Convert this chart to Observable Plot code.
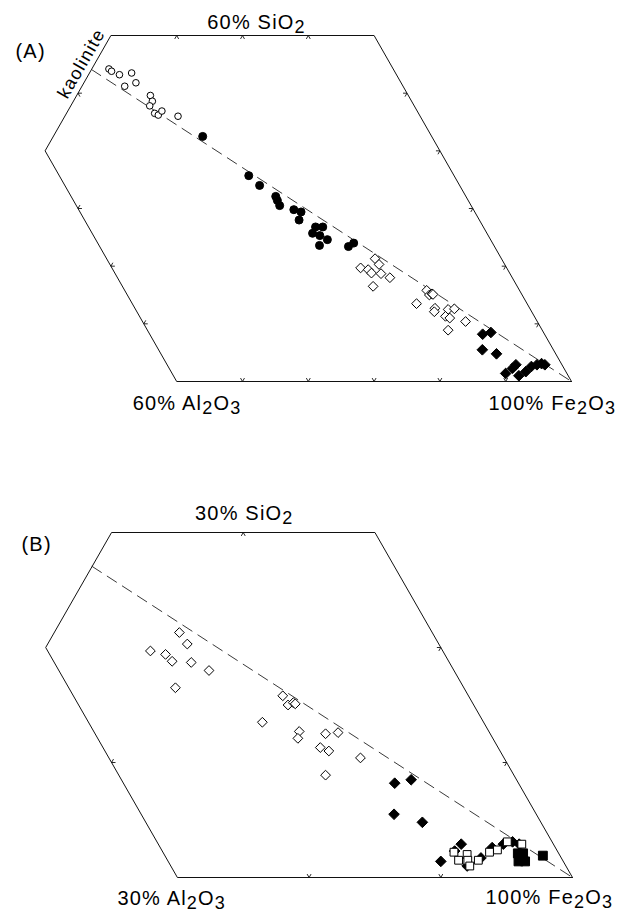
<!DOCTYPE html>
<html><head><meta charset="utf-8">
<script src="https://cdn.jsdelivr.net/npm/d3@7"></script>
<script src="https://cdn.jsdelivr.net/npm/@observablehq/plot@0.6"></script>
<style>
html,body{margin:0;padding:0;background:#fff;}
#chart{width:636px;}
#chart svg{display:block;}
</style></head><body><div id="chart"></div>
<script>
// Compositions as [SiO2 wt%, Al2O3 wt%]; Fe2O3 = 100 - SiO2 - Al2O3
const kaolinite = [54.1, 45.9];

// Panel A only
const openCircles = [[54.2,43.2],[53.8,43.0],[53.2,42.1],[53.5,40.1],[51.2,42.3],[51.8,40.3],[49.6,39.2],[48.6,39.4],[47.8,40.2],[46.5,40.1],[46.2,39.7],[46.9,38.8],[46.0,36.8]];
const filledCircles = [[42.5,34.8],[35.7,31.2],[34.0,30.4],[32.1,28.9],[31.4,29.0],[30.5,29.1],[29.8,27.3],[29.4,26.4],[28.0,27.4],[26.8,25.5],[26.8,24.4],[25.7,26.5],[25.3,25.6],[24.6,24.8],[23.6,26.5],[23.4,22.2],[24.0,21.1]];
// Both panels
const openDiamonds = [[21.3,19.2],[20.3,19.1],[19.7,22.2],[19.4,21.2],[18.8,21.0],[18.7,19.6],[18.0,18.6],[16.5,21.9],[15.8,14.1],[15.0,14.1],[15.2,13.6],[15.1,13.5],[13.5,16.8],[12.7,14.4],[12.1,14.8],[12.5,12.5],[12.6,11.5],[11.3,13.5],[11.0,13.0],[10.4,10.9],[8.9,14.3]];
const filledDiamonds = [[8.2,9.4],[8.5,8.0],[5.5,10.8],[4.8,9.0],[1.4,9.3],[2.3,7.8],[2.9,7.0],[1.0,7.5],[1.7,6.1],[2.6,4.8],[2.9,3.8],[3.1,3.0],[2.9,2.6]];
// Panel B only
const openSquares = [[2.2,7.9],[1.5,7.9],[2.0,7.0],[1.5,7.2],[1.0,7.3],[1.5,6.4],[2.2,5.2],[2.4,4.5],[3.1,3.4],[2.9,2.4]];
const filledSquares = [[1.9,1.3],[2.1,3.1],[2.1,2.7],[1.4,3.4],[1.4,2.9]];

// Outline of panel A (ternary truncated at 60% SiO2 and 60% Al2O3); panel B is the same zoomed x2 toward Fe2O3
const frameA = [[0,0],[0,60],[40,60],[60,40],[60,0],[0,0]];
const panelTitles = ["(A)", "(B)"];
const labelsA = ["60% SiO_2", "60% Al_2O_3", "100% Fe_2O_3"];
const labelsB = ["30% SiO_2", "30% Al_2O_3", "100% Fe_2O_3"];
const kaoliniteLabel = "kaolinite";

const X = d => 100 - d[1] - d[0] / 2;
const Y = d => d[0];

function makeTicks(frame, len) {
  const out = [];
  const verts = frame.slice(0, -1);
  const cx = d3.mean(verts, X), cy = d3.mean(verts, d => d[0] * 0.866);
  for (let i = 0; i < frame.length - 1; i++) {
    const P = frame[i], Q = frame[i + 1];
    const comp = Math.abs(P[0] - Q[0]) > 1e-9 ? 0 : 1;
    const lo = Math.min(P[comp], Q[comp]), hi = Math.max(P[comp], Q[comp]);
    const e = [Q[0] - P[0], Q[1] - P[1]];
    for (let v = Math.ceil((lo + 1e-6) / 10) * 10; v < hi - 1e-6; v += 10) {
      const t = (v - P[comp]) / (Q[comp] - P[comp]);
      const pt = [P[0] + t * e[0], P[1] + t * e[1]];
      for (const dir of [[1, 0], [0, 1], [1, -1]]) {
        if (Math.abs(e[0] * dir[1] - e[1] * dir[0]) < 1e-9) continue;
        const dX = -dir[1] - dir[0] / 2, dY = dir[0] * 0.866;
        const s = (dX * (cx - X(pt)) + dY * (cy - pt[0] * 0.866)) > 0 ? 1 : -1;
        out.push({a: pt, b: [pt[0] + s * len * dir[0], pt[1] + s * len * dir[1]]});
      }
    }
  }
  return out;
}

function subscripts(svg) {
  svg.querySelectorAll("text").forEach(t => {
    const s = t.textContent;
    if (!s.includes("_")) return;
    t.textContent = "";
    const parts = s.split(/_(\d)/);
    let shifted = false;
    parts.forEach((p, i) => {
      if (!p) return;
      const ts = document.createElementNS("http://www.w3.org/2000/svg", "tspan");
      if (i % 2 === 1) { ts.setAttribute("dy", "4"); ts.setAttribute("font-size", "18"); shifted = true; }
      else if (shifted) { ts.setAttribute("dy", "-4"); shifted = false; }
      ts.textContent = p;
      t.appendChild(ts);
    });
  });
}

const panels = [
  {title: panelTitles[0], labels: labelsA, k: 1, height: 440, xRange: [-87, 571], yRange: [381, 35],
   titleDx: 15, titleDy: 57, siDx: 14, siDy: -7, alDx: -44, alDy: 28, feDx: -83, feDy: 28,
   series: [
     {data: openCircles, symbol: "circle", r: 3.3, fill: "white"},
     {data: filledCircles, symbol: "circle", r: 4, fill: "black"},
     {data: openDiamonds, symbol: "diamond2", r: 4.4, fill: "white"},
     {data: filledDiamonds, symbol: "diamond2", r: 4.8, fill: "black"}
   ], kaolinite: true},
  {title: panelTitles[1], labels: labelsB, k: 0.5, height: 473, xRange: [-86.5, 572], yRange: [437, 92],
   titleDx: 21, titleDy: 110, siDx: 1, siDy: -13, alDx: -60, alDy: 27, feDx: -87, feDy: 26,
   series: [
     {data: openDiamonds, symbol: "diamond2", r: 4.4, fill: "white"},
     {data: filledDiamonds, symbol: "diamond2", r: 4.8, fill: "black"},
     {data: openSquares, symbol: "square", r: 4.4, fill: "white"},
     {data: filledSquares, symbol: "square", r: 5, fill: "black"}
   ], kaolinite: false}
];

const font = "'Liberation Sans', Arial, Helvetica, sans-serif";
const chart = document.getElementById("chart");

for (const p of panels) {
  const k = p.k;
  const frame = frameA.map(d => [d[0] * k, d[1] * k]);
  const ticks = makeTicks(frame, 0.6 * k);
  const dashStart = [kaolinite[0] * k, kaolinite[1] * k];
  const marks = [
    Plot.line(frame, {x: X, y: Y, stroke: "#111", strokeWidth: 1, strokeLinejoin: "miter"}),
    Plot.link(ticks, {x1: d => X(d.a), y1: d => Y(d.a), x2: d => X(d.b), y2: d => Y(d.b), stroke: "#111", strokeWidth: 0.9}),
    Plot.line([dashStart, [0, 0]], {x: X, y: Y, stroke: "#222", strokeWidth: 0.9, strokeDasharray: "11,7"}),
    ...p.series.map(s => Plot.dot(s.data, {x: X, y: Y, symbol: s.symbol, r: s.r, fill: s.fill, stroke: "black", strokeWidth: 1})),
    Plot.text([p.title], {frameAnchor: "top-left", text: d => d, dx: p.titleDx, dy: p.titleDy, textAnchor: "start", lineAnchor: "bottom", fontSize: 20, fontFamily: font, fill: "black"}),
    Plot.text([[60 * k, 20 * k]], {x: X, y: Y, text: () => p.labels[0], dx: p.siDx, dy: p.siDy, textAnchor: "middle", lineAnchor: "bottom", fontSize: 20, fontFamily: font, fill: "black"}),
    Plot.text([[0, 60 * k]], {x: X, y: Y, text: () => p.labels[1], dx: p.alDx, dy: p.alDy, textAnchor: "start", lineAnchor: "bottom", fontSize: 20, fontFamily: font, fill: "black"}),
    Plot.text([[0, 0]], {x: X, y: Y, text: () => p.labels[2], dx: p.feDx, dy: p.feDy, textAnchor: "start", lineAnchor: "bottom", fontSize: 20, fontFamily: font, fill: "black"})
  ];
  if (p.kaolinite) {
    marks.push(Plot.text([kaolinite], {x: X, y: Y, text: () => kaoliniteLabel, rotate: -60, dx: -10, dy: -6, textAnchor: "middle", lineAnchor: "middle", fontSize: 18, fontFamily: font, fill: "black"}));
  }
  const svg = Plot.plot({
    width: 636, height: p.height, margin: 0,
    x: {domain: [100 - 100 * k, 100], range: p.xRange, axis: null},
    y: {domain: [0, 60 * k], range: p.yRange, axis: null},
    style: "font-family: " + font + "; letter-spacing: 1.2px; background: white; overflow: visible;",
    marks
  });
  subscripts(svg);
  chart.appendChild(svg);
}
</script></body></html>
